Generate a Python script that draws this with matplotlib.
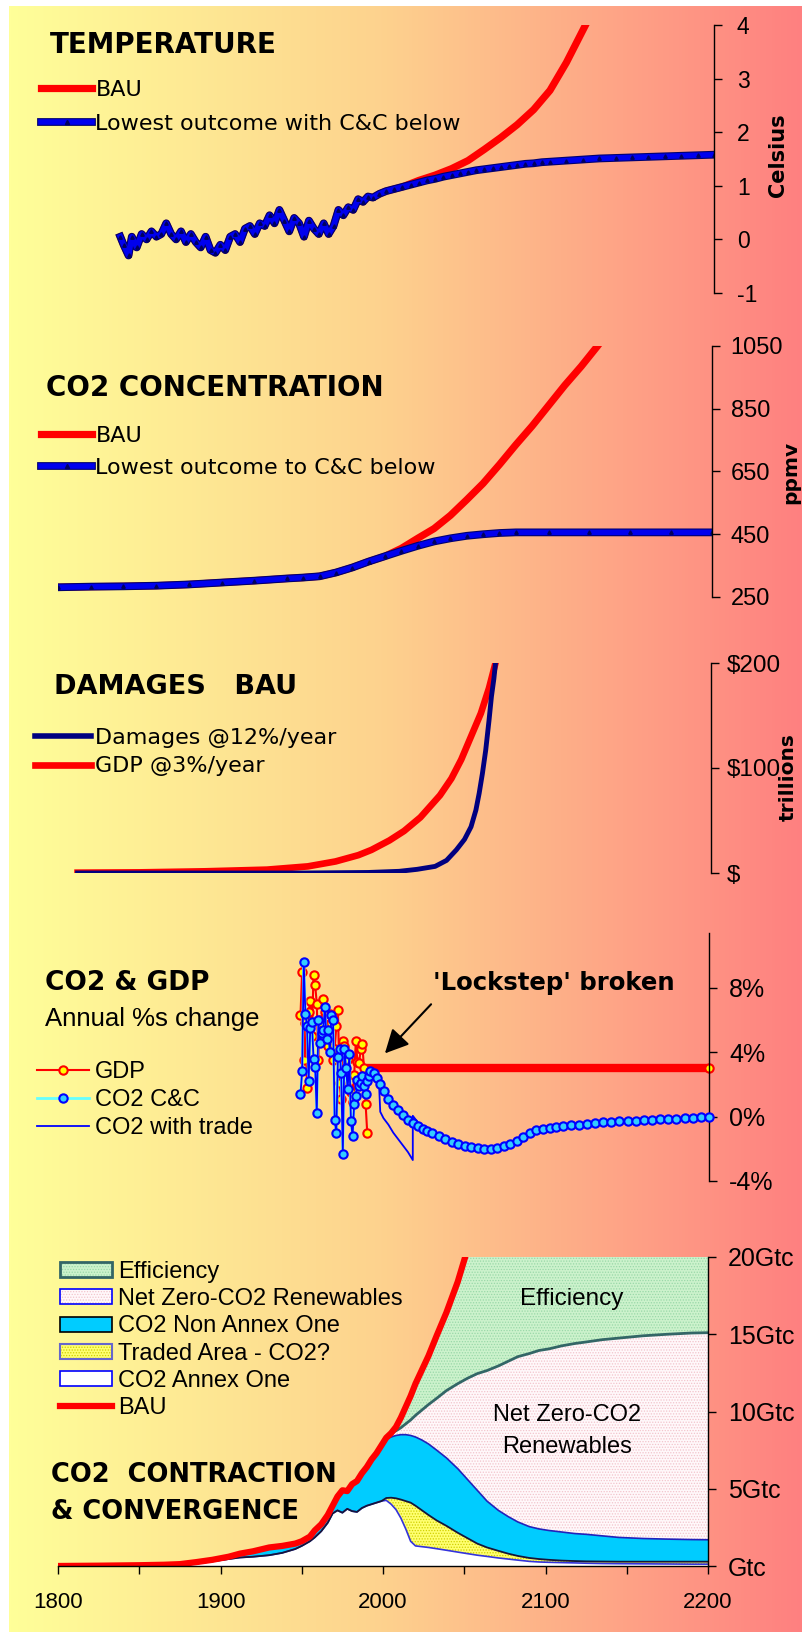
import numpy as np
import matplotlib
matplotlib.use('Agg')
import matplotlib.pyplot as plt
import matplotlib.patheffects as pe
from matplotlib.lines import Line2D
from matplotlib.patches import Patch
from matplotlib.colors import LinearSegmentedColormap

W, H = 803, 1632

# ---- panel 1: temperature (Celsius)
temp_years = [1838, 1840, 1843, 1845, 1848, 1851, 1854, 1857, 1860, 1863, 1866, 1869, 1872, 1875,
              1878, 1881, 1884, 1887, 1890, 1893, 1896, 1899, 1902, 1905, 1908, 1911, 1914, 1917,
              1920, 1923, 1926, 1929, 1932, 1935, 1938, 1941, 1944, 1947, 1950, 1953, 1956, 1959,
              1962, 1965, 1968, 1971, 1974, 1977, 1980, 1983, 1986, 1989, 1992, 1996, 2000]
temp_hist = [0.05, -0.1, -0.3, 0.05, -0.15, 0.1, 0.0, 0.15, 0.05, 0.1, 0.3, 0.1, 0.0, 0.15,
             -0.05, 0.1, -0.05, -0.15, 0.05, -0.2, -0.25, -0.1, -0.2, 0.05, 0.1, -0.05, 0.2, 0.25,
             0.1, 0.3, 0.25, 0.45, 0.3, 0.55, 0.35, 0.15, 0.4, 0.3, 0.05, 0.35, 0.2, 0.1,
             0.3, 0.1, 0.25, 0.55, 0.45, 0.6, 0.55, 0.75, 0.7, 0.8, 0.78, 0.85, 0.9]
temp_cc_years = [2005, 2010, 2015, 2020, 2025, 2030, 2035, 2040, 2045, 2050, 2055, 2060, 2065, 2070,
                 2075, 2080, 2085, 2090, 2095, 2100, 2110, 2120, 2130, 2140, 2150, 2160, 2170, 2180,
                 2190, 2200]
temp_cc = [0.94, 0.98, 1.02, 1.06, 1.1, 1.13, 1.17, 1.2, 1.23, 1.26, 1.29, 1.31, 1.33, 1.35,
           1.37, 1.39, 1.41, 1.42, 1.44, 1.45, 1.47, 1.49, 1.51, 1.52, 1.53, 1.54, 1.55, 1.56,
           1.57, 1.58]
temp_bau_years = [2010, 2020, 2030, 2040, 2050, 2060, 2070, 2080, 2090, 2100, 2110, 2120, 2130]
temp_bau = [0.98, 1.1, 1.2, 1.32, 1.47, 1.68, 1.9, 2.14, 2.42, 2.78, 3.3, 3.9, 4.5]

# ---- panel 2: CO2 concentration (ppmv)
co2_years = [1800, 1820, 1840, 1860, 1880, 1900, 1920, 1940, 1950, 1960, 1970, 1980, 1990, 2000]
co2_hist = [281, 283, 284, 286, 290, 296, 302, 309, 312, 316, 328, 344, 363, 380]
co2_cc_years = [2010, 2020, 2030, 2040, 2050, 2060, 2070, 2080, 2100, 2125, 2150, 2175, 2200]
co2_cc = [397, 413, 427, 437, 445, 450, 454, 456, 456, 456, 456, 456, 456]
co2_bau_years = [2010, 2020, 2030, 2040, 2050, 2060, 2070, 2080, 2090, 2100, 2110, 2120, 2130, 2135]
co2_bau = [405, 437, 468, 510, 560, 612, 672, 735, 795, 860, 925, 985, 1050, 1085]

# ---- panel 3: damages (trillions)
dmg_years = [1812, 1950, 1990, 2009, 2020, 2031, 2038, 2044, 2049, 2053, 2056, 2058, 2060, 2062,
             2064, 2065.5, 2067, 2068]
dmg_vals = [0, 0, 0.5, 1.6, 3.5, 6.3, 12, 22, 32, 44, 60, 76, 95, 117, 145, 168, 185, 200]
gdp_years = [1812, 1850, 1890, 1928, 1953, 1970, 1984, 1992, 2003, 2012, 2022, 2034, 2041, 2047,
             2053, 2059, 2064, 2068]
gdp_vals = [0.3, 0.6, 1.6, 3.2, 6.3, 11, 17, 22, 31, 40, 53, 74, 90, 108, 130, 152, 176, 200]

# ---- panel 4: annual % change
pct_years = list(range(1949, 1991))
gdp_pct = [6.3, 9.0, 3.5, 5.8, 1.8, 6.5, 7.2, 5.0, 8.8, 8.2, 7.0, 3.5, 6.0, 5.8, 7.3, 6.5, 5.7,
           4.4, 6.4, 5.8, 3.5, 4.2, 5.6, 6.6, 2.1, 1.1, 4.7, 4.4, 3.9, 3.6, 1.8, 1.5, 0.9, 2.6,
           4.7, 3.4, 3.3, 4.2, 4.5, 3.0, 0.8, -1.0]
gdp_flat_years = [1990, 2200]
gdp_flat = [3.0, 3.0]
co2_pct_years = list(range(1949, 1992))
co2_pct = [1.4, 2.8, 9.6, 6.4, 5.6, 2.2, 5.5, 5.9, 3.6, 3.1, 0.2, 6.0, 4.6, 5.2, 5.4, 6.8, 4.8,
           5.4, 4.0, 6.3, 6.0, -0.2, -1.0, 3.7, 4.2, 2.7, -2.3, 4.2, 3.0, 1.7, 3.9, -0.3, -1.2,
           0.8, 1.3, 2.3, 1.9, 2.1, 2.5, 1.9, 1.4, 2.2, 2.5]
cc_pct_years = [1992, 1994, 1996, 1998, 2000, 2003, 2006, 2009, 2012, 2015, 2018, 2021, 2024, 2027,
                2030, 2034, 2038, 2042, 2046, 2050, 2054, 2058, 2062, 2066, 2070, 2074, 2078, 2082,
                2086, 2090, 2094, 2098, 2102, 2106, 2110, 2115, 2120, 2125, 2130, 2135, 2140, 2145,
                2150, 2155, 2160, 2165, 2170, 2175, 2180, 2185, 2190, 2195, 2200]
cc_pct = [2.8, 2.7, 2.4, 2.0, 1.6, 1.1, 0.7, 0.4, 0.1, -0.2, -0.4, -0.6, -0.75, -0.9,
          -1.05, -1.2, -1.4, -1.55, -1.7, -1.8, -1.9, -1.95, -2.0, -2.0, -1.95, -1.85, -1.7, -1.5,
          -1.25, -1.0, -0.85, -0.75, -0.7, -0.65, -0.6, -0.55, -0.5, -0.45, -0.4, -0.35, -0.32, -0.3,
          -0.27, -0.25, -0.22, -0.2, -0.17, -0.15, -0.12, -0.1, -0.07, -0.04, 0.0]
trade_years = [1992, 1995, 1997, 1998, 2000, 2003, 2006, 2009, 2012, 2015, 2018, 2018, 2021, 2024,
               2027, 2030, 2034, 2038, 2042, 2046, 2050]
trade_pct = [2.8, 2.9, 2.6, 0.3, -0.1, -0.5, -1.0, -1.4, -1.8, -2.2, -2.7, 0.05, -0.35, -0.6,
             -0.8, -0.95, -1.15, -1.35, -1.5, -1.65, -1.75]

# ---- panel 5: contraction & convergence (Gtc)
cc_years = [1800, 1825, 1850, 1865, 1875, 1885, 1895, 1905, 1912, 1920, 1930, 1938, 1946, 1950,
            1955, 1958, 1962, 1966, 1969, 1972, 1975, 1978, 1981, 1984, 1987, 1990, 1993, 1996,
            1999, 2002, 2005, 2008, 2011, 2014, 2017, 2020, 2024, 2028, 2033, 2039, 2046, 2052,
            2058, 2064, 2071, 2077, 2083, 2090, 2096, 2102, 2110, 2118, 2125, 2135, 2145, 2160,
            2175, 2190, 2200]
bau5 = [0.0, 0.02, 0.05, 0.08, 0.12, 0.25, 0.4, 0.6, 0.8, 0.95, 1.2, 1.3, 1.45, 1.6,
        1.9, 2.3, 2.7, 3.3, 3.9, 4.5, 4.9, 4.85, 5.3, 5.5, 6.0, 6.4, 6.9, 7.3,
        7.8, 8.3, 8.6, 9.0, 9.6, 10.3, 11.0, 11.8, 12.7, 13.6, 14.9, 16.4, 18.4, 20.5,
        23, 26, 30, 34, 38, 43, 48, 53, 60, 68, 75, 85, 96, 115,
        135, 160, 180]
annex1 = [0, 0, 0, 0, 0.02, 0.15, 0.3, 0.45, 0.55, 0.6, 0.7, 0.85, 1.1, 1.3,
          1.6, 1.85, 2.25, 2.8, 3.4, 3.6, 3.45, 3.7, 3.55, 3.5, 3.75, 3.9, 4.0, 4.1,
          4.2, 4.25, 4.0, 3.65, 3.1, 2.4, 1.6, 1.3, 1.25, 1.2, 1.12, 1.02, 0.9, 0.8,
          0.7, 0.62, 0.52, 0.45, 0.38, 0.3, 0.26, 0.24, 0.22, 0.2, 0.18, 0.16, 0.15, 0.14,
          0.13, 0.12, 0.12]
traded_top = annex1[:29] + [4.4, 4.42, 4.38, 4.3, 4.2, 4.1, 3.9, 3.6, 3.3, 2.95, 2.6, 2.15, 1.8,
                            1.45, 1.2, 0.98, 0.8, 0.65, 0.52, 0.45, 0.4, 0.35, 0.32, 0.3, 0.29,
                            0.28, 0.28, 0.28, 0.28, 0.28]
cc_total = bau5[:29] + [8.2, 8.35, 8.45, 8.5, 8.5, 8.45, 8.35, 8.15, 7.9, 7.5, 7.0, 6.3, 5.6,
                        4.9, 4.2, 3.6, 3.2, 2.85, 2.55, 2.4, 2.3, 2.2, 2.1, 2.05, 1.95, 1.85,
                        1.78, 1.74, 1.71, 1.7]
renew_top = bau5[:29] + [8.3, 8.6, 8.75, 8.95, 9.2, 9.45, 9.75, 10.1, 10.45, 10.85, 11.35, 11.8,
                         12.15, 12.45, 12.65, 12.95, 13.25, 13.55, 13.75, 13.95, 14.05, 14.25,
                         14.4, 14.5, 14.65, 14.75, 14.9, 15.0, 15.08, 15.1]

plt.rcParams['font.family'] = ['DejaVu Sans']
plt.rcParams['hatch.linewidth'] = 0.6

fig = plt.figure(figsize=(W / 100, H / 100), dpi=100)
fig.patch.set_facecolor('white')

# background gradient
bg = fig.add_axes([9 / W, 0, 1 - 9 / W, 1 - 6 / H], zorder=-5)
cmap = LinearSegmentedColormap.from_list('bg', [(0, '#ffff99'), (0.47, '#fdd28e'), (1, '#ff8080')])
bg.imshow(np.linspace(0, 1, 512)[None, :], cmap=cmap, aspect='auto', extent=[0, 1, 0, 1])
bg.axis('off')


def panel(x1, y0, y1):
    ax = fig.add_axes([58 / W, 1 - y1 / H, (x1 - 58) / W, (y1 - y0) / H])
    ax.set_facecolor('none')
    for s in ['left', 'top', 'bottom']:
        ax.spines[s].set_visible(False)
    ax.spines['right'].set_linewidth(1)
    ax.set_xlim(1800, 2200)
    ax.set_xticks([])
    ax.yaxis.tick_right()
    return ax


def yticks(ax, vals, labels, pad, size):
    ax.set_yticks(vals)
    ax.set_yticklabels(labels)
    ax.tick_params(axis='y', direction='out', length=5.5, width=1, pad=pad,
                   labelsize=size, labelfontfamily='Liberation Sans')


def ftext(x, y, s, **kw):
    fig.text(x / W, 1 - y / H, s, **kw)


def legend(ax, handles, labels, x, yc, **kw):
    opts = dict(loc='center left', bbox_to_anchor=(x / W, 1 - yc / H), bbox_transform=fig.transFigure,
                frameon=False, borderpad=0, borderaxespad=0, numpoints=1)
    opts.update(kw)
    ax.legend(handles, labels, **opts)


navy_edge = [pe.Stroke(linewidth=5.6, foreground='#000070'), pe.Normal()]
blue_handle = (Line2D([], [], color='#0000ee', lw=4, path_effects=navy_edge),
               Line2D([], [], ls='none', marker='^', ms=3, color='#000060'))

# ---------------- panel 1
ax1 = panel(714, 25, 293)
ax1.set_ylim(-1, 4)
ax1.plot(temp_years + temp_bau_years, temp_hist + temp_bau, color='red', lw=5.2)
ax1.plot(temp_years + temp_cc_years, temp_hist + temp_cc, color='#0000ee', lw=4, path_effects=navy_edge)
ax1.plot(temp_years + temp_cc_years, temp_hist + temp_cc, ls='none', marker='^', ms=2.5, color='#000060')
yticks(ax1, [-1, 0, 1, 2, 3, 4], ['-1', '0', '1', '2', '3', '4'], 11, 16.5)
ftext(50, 45, 'TEMPERATURE', fontsize=20, fontweight='bold', va='center')
ftext(778, 155, 'Celsius', fontsize=15, fontweight='bold', rotation=90, va='center', ha='center')
legend(ax1, [Line2D([], [], color='red', lw=5.2), blue_handle],
       ['BAU', 'Lowest outcome with C&C below'], 41, 107, fontsize=16, handlelength=2.3,
       handletextpad=0.15, labelspacing=0.62)

# ---------------- panel 2
ax2 = panel(712, 346, 597)
ax2.set_ylim(250, 1050)
ax2.plot(co2_years + co2_bau_years, co2_hist + co2_bau, color='red', lw=5.2)
ax2.plot(co2_years + co2_cc_years, co2_hist + co2_cc, color='#0000ee', lw=4, path_effects=navy_edge)
ax2.plot(co2_years + co2_cc_years, co2_hist + co2_cc, ls='none', marker='^', ms=2.5, color='#000060')
yticks(ax2, [250, 450, 650, 850, 1050], ['250', '450', '650', '850', '1050'], 8, 17)
ftext(46, 388, 'CO2 CONCENTRATION', fontsize=20, fontweight='bold', va='center')
ftext(791, 472, 'ppmv', fontsize=14.5, fontweight='bold', rotation=90, va='center', ha='center')
legend(ax2, [Line2D([], [], color='red', lw=5.2), blue_handle],
       ['BAU', 'Lowest outcome to C&C below'], 41, 452, fontsize=16, handlelength=2.3,
       handletextpad=0.15, labelspacing=0.52)

# ---------------- panel 3
ax3 = panel(711, 663, 873)
ax3.set_ylim(0, 200)
ax3.plot(gdp_years, gdp_vals, color='red', lw=4.8)
ax3.plot(dmg_years, dmg_vals, color='#000080', lw=3.5)
yticks(ax3, [0, 100, 200], ['$', '$100', '$200'], 6, 17.5)
ftext(54, 687, 'DAMAGES   BAU', fontsize=19.5, fontweight='bold', va='center')
ftext(788, 777, 'trillions', fontsize=14.5, fontweight='bold', rotation=90, va='center', ha='center')
legend(ax3, [Line2D([], [], color='#000080', lw=4), Line2D([], [], color='red', lw=4.8)],
       ['Damages @12%/year', 'GDP @3%/year'], 35, 752, fontsize=16, handlelength=2.5,
       handletextpad=0.2, labelspacing=0.4)

# ---------------- panel 4
ax4 = panel(709, 933, 1181)
ax4.set_ylim(-4, 11.4)
ax4.plot(gdp_flat_years, gdp_flat, color='red', lw=6, solid_capstyle='butt', zorder=2,
         marker='o', ms=6, mfc='yellow', mec='red', mew=1.5, markevery=[1], clip_on=False)
ax4.plot(pct_years, gdp_pct, color='red', lw=1.5, marker='o', ms=6, mfc='yellow', mec='red',
         mew=1.5, zorder=3)
ax4.plot(co2_pct_years + cc_pct_years, co2_pct + cc_pct, color='#66ffff', lw=2, zorder=4)
ax4.plot(co2_pct_years + trade_years, co2_pct + trade_pct, color='#0000ff', lw=1.3, zorder=5)
ax4.plot(co2_pct_years + cc_pct_years, co2_pct + cc_pct, ls='none', marker='o', ms=6,
         mfc='#33ccff', mec='#0000ff', mew=1.5, zorder=6, clip_on=False)
yticks(ax4, [-4, 0, 4, 8], ['-4%', '0%', '4%', '8%'], 9, 18)
ftext(45, 983, 'CO2 & GDP', fontsize=19, fontweight='bold', va='center')
ftext(45, 1019, 'Annual %s change', fontsize=18.5, family='Liberation Sans', va='center')
ftext(433, 983, "'Lockstep' broken", fontsize=17.6, fontweight='bold', va='center')
ax4.annotate('', xy=(1999.7, 3.8), xytext=(2030.4, 7.1),
             arrowprops=dict(arrowstyle='-|>', mutation_scale=36, lw=1.5, color='black'))
legend(ax4, [Line2D([], [], color='red', lw=1.5, marker='o', ms=6, mfc='yellow', mec='red', mew=1.5),
             Line2D([], [], color='#66ffff', lw=2, marker='o', ms=6, mfc='#33ccff', mec='#0000ff', mew=1.5),
             Line2D([], [], color='#0000ff', lw=1.3)],
       ['GDP', 'CO2 C&C', 'CO2 with trade'], 37, 1100, handlelength=2.2,
       handletextpad=0.25, labelspacing=0.25, prop={'family': 'Liberation Sans', 'size': 17})

# ---------------- panel 5
ax5 = panel(708, 1257, 1566)
ax5.set_ylim(0, 20)
ax5.fill_between(cc_years, 0, annex1, facecolor='white', lw=0)
ax5.fill_between(cc_years, annex1, traded_top, facecolor='#ffff70', edgecolor='#d0d000', hatch='......', lw=0)
ax5.fill_between(cc_years, traded_top, cc_total, facecolor='#00ccff', lw=0)
ax5.fill_between(cc_years, cc_total, renew_top, facecolor='#fff8fa', edgecolor='#f2c4cc', hatch='......', lw=0)
ax5.fill_between(cc_years, renew_top, bau5, facecolor='#ccf2cc', edgecolor='#99d8a8', hatch='......', lw=0)
ax5.plot(cc_years, annex1, color='#3333dd', lw=1.2)
ax5.plot(cc_years, traded_top, color='#15153a', lw=1.3)
ax5.plot(cc_years, cc_total, color='#2222bb', lw=1.2)
ax5.plot(cc_years, renew_top, color='#336666', lw=2)
ax5.plot(cc_years, bau5, color='red', lw=4.5)
yticks(ax5, [0, 5, 10, 15, 20], ['Gtc', '5Gtc', '10Gtc', '15Gtc', '20Gtc'], 9, 18)
ax5.spines['bottom'].set_visible(True)
ax5.spines['bottom'].set_linewidth(1)
ax5.set_xticks([1800, 1900, 2000, 2100, 2200])
ax5.set_xticks([1850, 1950, 2050, 2150], minor=True)
ax5.tick_params(axis='x', which='both', direction='out', length=5.5, width=1, pad=13,
                labelsize=16, labelfontfamily='Liberation Sans')
ax5.text(2116, 17.3, 'Efficiency', fontsize=17.5, family='Liberation Sans', ha='center', va='center')
ax5.text(2113, 9.8, 'Net Zero-CO2', fontsize=17, family='Liberation Sans', ha='center', va='center')
ax5.text(2113, 7.7, 'Renewables', fontsize=17, family='Liberation Sans', ha='center', va='center')
ftext(51, 1475, 'CO2  CONTRACTION', fontsize=18.5, fontweight='bold', va='center')
ftext(51, 1512, '& CONVERGENCE', fontsize=18.5, fontweight='bold', va='center')
h5 = [(Patch(facecolor='#ccf2cc', edgecolor='#99d8a8', hatch='......', lw=0),
       Patch(fill=False, edgecolor='#336666', lw=2)),
      (Patch(facecolor='#fff8fa', edgecolor='#f2c4cc', hatch='......', lw=0),
       Patch(fill=False, edgecolor='#0000ff', lw=1.2)),
      Patch(facecolor='#00ccff', edgecolor='black', lw=1.2),
      (Patch(facecolor='#ffff70', edgecolor='#d0d000', hatch='......', lw=0),
       Patch(fill=False, edgecolor='#6666cc', lw=1.5)),
      Patch(facecolor='white', edgecolor='#0000ff', lw=1.2),
      Line2D([], [], color='red', lw=4.5)]
legend(ax5, h5, ['Efficiency', 'Net Zero-CO2 Renewables', 'CO2 Non Annex One', 'Traded Area - CO2?',
                 'CO2 Annex One', 'BAU'], 60, 1340, handlelength=2.2, handleheight=0.6,
       handletextpad=0.25, labelspacing=0.22, prop={'family': 'Liberation Sans', 'size': 17})

fig.savefig('out.png', dpi=100)
